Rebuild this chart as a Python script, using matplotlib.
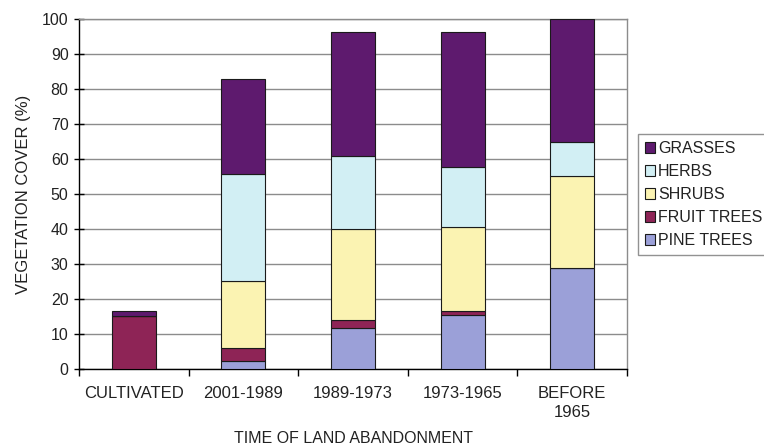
import numpy as np
import matplotlib.pyplot as plt

plt.rcParams['font.family'] = ['Liberation Sans', 'DejaVu Sans']

# vegetation cover (%) by time since the land was abandoned
periods = ['CULTIVATED', '2001-1989', '1989-1973', '1973-1965', 'BEFORE\n1965']
pine_trees = [0.0, 2.3, 11.6, 15.4, 28.8]
fruit_trees = [15.0, 3.6, 2.4, 1.2, 0.0]
shrubs = [0.0, 19.1, 25.9, 24.1, 26.3]
herbs = [0.0, 30.7, 21.0, 16.9, 9.8]
grasses = [1.6, 27.2, 35.5, 38.8, 35.1]

layers = [
    ('PINE TREES', pine_trees, '#9ba0d8'),
    ('FRUIT TREES', fruit_trees, '#8e2456'),
    ('SHRUBS', shrubs, '#fbf3b2'),
    ('HERBS', herbs, '#d2eff4'),
    ('GRASSES', grasses, '#5e1a6e'),
]

fig = plt.figure(figsize=(7.64, 4.47), dpi=100)
ax = fig.add_axes([0.1034, 0.1745, 0.7173, 0.783])

x = np.arange(len(periods))
bottom = np.zeros(len(periods))
handles = []
for name, vals, color in layers:
    vals = np.array(vals)
    b = ax.bar(x, vals, 0.4, bottom=bottom, color=color, edgecolor='#1a1a1a',
               linewidth=0.8, label=name, zorder=3)
    handles.append(b)
    bottom += vals

ax.set_xlim(-0.5, len(periods) - 0.5)
ax.set_ylim(0, 100)
ax.set_yticks(np.arange(0, 101, 10))
ax.yaxis.grid(True, color='#8c8c8c', linewidth=1.0, zorder=0)

ax.set_xticks(x)
ax.set_xticklabels(periods, fontsize=12, color='#222222', linespacing=1.35)
ax.set_xticks(np.arange(-0.5, len(periods), 1), minor=True)
ax.tick_params(axis='x', which='major', length=0, pad=12)
ax.tick_params(axis='x', which='minor', length=5, width=1, direction='out')
ax.tick_params(axis='y', direction='inout', length=7, width=1, labelsize=11.5,
               labelcolor='#222222', pad=4)

for side in ['left', 'bottom']:
    ax.spines[side].set_color('black')
    ax.spines[side].set_linewidth(1.0)
for side in ['top', 'right']:
    ax.spines[side].set_color('#8c8c8c')
    ax.spines[side].set_linewidth(1.0)

ax.set_ylabel('VEGETATION COVER (%)', fontsize=12, labelpad=8, color='#222222')
ax.set_xlabel('TIME OF LAND ABANDONMENT', fontsize=11.5, labelpad=8, color='#222222')

leg = fig.legend(handles[::-1], [l[0] for l in layers][::-1],
                 loc='upper left', bbox_to_anchor=(638 / 764, 1 - 134 / 447),
                 borderaxespad=0, fontsize=11.5, frameon=True, fancybox=False,
                 handlelength=0.6, handleheight=0.6, handletextpad=0.2,
                 labelspacing=0.5, borderpad=0.45, labelcolor='#222222')
leg.get_frame().set_edgecolor('#777777')
leg.get_frame().set_linewidth(1.0)

fig.savefig('out.png', dpi=100)
